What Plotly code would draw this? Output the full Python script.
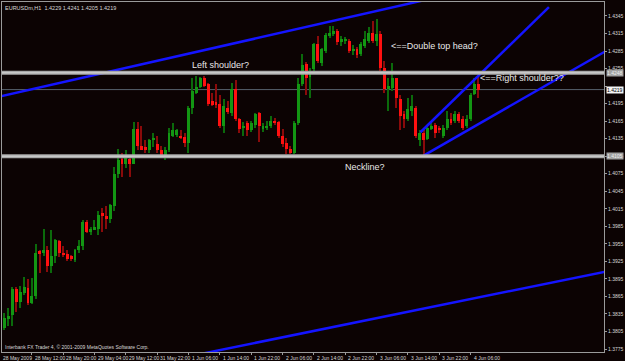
import plotly.graph_objects as go

# ---- Data: EURUSD H1 candles ----
open_ = [1.3814, 1.3811, 1.3828, 1.3833, 1.3878, 1.3855, 1.3871, 1.3879, 1.3853, 1.3865,
         1.3942, 1.3939, 1.3945, 1.3917, 1.3934, 1.3960, 1.3940, 1.3937, 1.3935, 1.3927,
         1.3945, 1.3951, 1.3993, 1.3976, 1.3979, 1.3981, 1.4007, 1.4002, 1.3997, 1.4019,
         1.4074, 1.4101, 1.4092, 1.4101, 1.4092, 1.4152, 1.4123, 1.4120, 1.4115, 1.4133,
         1.4126, 1.4116, 1.4102, 1.4115, 1.4140, 1.4142, 1.4140, 1.4138, 1.4128, 1.4188,
         1.4214, 1.4224, 1.4239, 1.4229, 1.4200, 1.4198, 1.4195, 1.4156, 1.4188, 1.4179,
         1.4220, 1.4169, 1.4154, 1.4161, 1.4149, 1.4159, 1.4179, 1.4152, 1.4154, 1.4157,
         1.4166, 1.4164, 1.4140, 1.4128, 1.4118, 1.4111, 1.4161, 1.4229, 1.4263, 1.4241,
         1.4255, 1.4297, 1.4265, 1.4285, 1.4311, 1.4314, 1.4319, 1.4301, 1.4302, 1.4302,
         1.4285, 1.4289, 1.4280, 1.4294, 1.4302, 1.4316, 1.4302, 1.4314, 1.4256, 1.4220,
         1.4222, 1.4238, 1.4203, 1.4178, 1.4169, 1.4183, 1.4188, 1.4132, 1.4145, 1.4135,
         1.4152, 1.4159, 1.4154, 1.4140, 1.4154, 1.4168, 1.4166, 1.4178, 1.4169, 1.4156,
         1.4169, 1.4212, 1.4229]
high = [1.3828, 1.3836, 1.3845, 1.3881, 1.3881, 1.3883, 1.3898, 1.3894, 1.3896, 1.3954,
        1.3944, 1.3981, 1.3951, 1.3979, 1.3963, 1.3961, 1.3951, 1.3944, 1.3936, 1.3947,
        1.3961, 1.3995, 1.3995, 1.3983, 1.3995, 1.4012, 1.4016, 1.4019, 1.4024, 1.4086,
        1.4118, 1.4111, 1.4115, 1.4106, 1.4164, 1.4164, 1.4157, 1.4132, 1.4135, 1.4144,
        1.4140, 1.4123, 1.4120, 1.4154, 1.4162, 1.4152, 1.4149, 1.4144, 1.4191, 1.4238,
        1.4243, 1.4241, 1.4243, 1.4231, 1.4214, 1.4229, 1.4209, 1.4203, 1.4200, 1.4231,
        1.4236, 1.4171, 1.4164, 1.4166, 1.4166, 1.4179, 1.4181, 1.4162, 1.4166, 1.4174,
        1.4171, 1.4166, 1.4152, 1.4137, 1.4123, 1.4166, 1.4239, 1.4280, 1.4266, 1.4256,
        1.4299, 1.4311, 1.4291, 1.4316, 1.4328, 1.4328, 1.4323, 1.4311, 1.4309, 1.4306,
        1.4296, 1.4292, 1.4301, 1.4319, 1.4326, 1.4336, 1.4340, 1.4319, 1.4268, 1.4238,
        1.4265, 1.4239, 1.4209, 1.4183, 1.4205, 1.4209, 1.4191, 1.4149, 1.4149, 1.4159,
        1.4166, 1.4162, 1.4157, 1.4159, 1.4183, 1.4179, 1.4183, 1.4181, 1.4173, 1.4176,
        1.4214, 1.4238, 1.4241]
low = [1.3790, 1.3808, 1.3814, 1.3814, 1.3838, 1.3845, 1.3868, 1.3850, 1.3852, 1.3860,
       1.3905, 1.3935, 1.3906, 1.3905, 1.3922, 1.3932, 1.3932, 1.3925, 1.3925, 1.3924,
       1.3940, 1.3945, 1.3974, 1.3971, 1.3978, 1.3970, 1.3976, 1.3981, 1.3990, 1.4012,
       1.4068, 1.4070, 1.4084, 1.4070, 1.4091, 1.4115, 1.4115, 1.4111, 1.4111, 1.4120,
       1.4111, 1.4102, 1.4098, 1.4113, 1.4138, 1.4138, 1.4135, 1.4120, 1.4111, 1.4178,
       1.4212, 1.4222, 1.4224, 1.4191, 1.4191, 1.4188, 1.4154, 1.4145, 1.4178, 1.4174,
       1.4166, 1.4144, 1.4140, 1.4140, 1.4147, 1.4154, 1.4130, 1.4147, 1.4149, 1.4154,
       1.4159, 1.4137, 1.4120, 1.4108, 1.4109, 1.4109, 1.4159, 1.4226, 1.4209, 1.4205,
       1.4248, 1.4265, 1.4260, 1.4282, 1.4307, 1.4311, 1.4296, 1.4294, 1.4297, 1.4282,
       1.4278, 1.4273, 1.4277, 1.4291, 1.4299, 1.4299, 1.4294, 1.4251, 1.4214, 1.4183,
       1.4217, 1.4188, 1.4149, 1.4154, 1.4166, 1.4174, 1.4137, 1.4123, 1.4106, 1.4132,
       1.4149, 1.4137, 1.4145, 1.4137, 1.4149, 1.4159, 1.4162, 1.4161, 1.4150, 1.4154,
       1.4166, 1.4209, 1.4205]
close = [1.3813, 1.3828, 1.3831, 1.3878, 1.3855, 1.3872, 1.3881, 1.3853, 1.3865, 1.3940,
         1.3939, 1.3945, 1.3917, 1.3934, 1.3961, 1.3940, 1.3937, 1.3929, 1.3929, 1.3945,
         1.3952, 1.3993, 1.3976, 1.3981, 1.3983, 1.4004, 1.4002, 1.3997, 1.4021, 1.4074,
         1.4099, 1.4092, 1.4102, 1.4092, 1.4152, 1.4123, 1.4116, 1.4115, 1.4133, 1.4135,
         1.4115, 1.4106, 1.4116, 1.4144, 1.4149, 1.4149, 1.4137, 1.4128, 1.4188, 1.4217,
         1.4224, 1.4239, 1.4226, 1.4195, 1.4193, 1.4193, 1.4156, 1.4191, 1.4181, 1.4220,
         1.4169, 1.4152, 1.4157, 1.4149, 1.4162, 1.4178, 1.4156, 1.4156, 1.4157, 1.4166,
         1.4162, 1.4140, 1.4126, 1.4118, 1.4111, 1.4161, 1.4229, 1.4261, 1.4239, 1.4251,
         1.4297, 1.4268, 1.4289, 1.4313, 1.4316, 1.4319, 1.4301, 1.4306, 1.4306, 1.4285,
         1.4289, 1.4278, 1.4297, 1.4306, 1.4316, 1.4302, 1.4314, 1.4256, 1.4220, 1.4226,
         1.4238, 1.4205, 1.4174, 1.4169, 1.4186, 1.4191, 1.4140, 1.4145, 1.4132, 1.4154,
         1.4156, 1.4144, 1.4149, 1.4154, 1.4168, 1.4162, 1.4178, 1.4166, 1.4154, 1.4169,
         1.4210, 1.4229, 1.4219]

# time-axis labels (every 8 bars)
time_label_bars = [0, 8, 16, 24, 32, 40, 48, 56, 64, 72, 80, 88, 96, 104, 112, 120]
time_labels = ["28 May 2009", "28 May 12:00", "28 May 20:00", "29 May 04:00", "29 May 12:00",
               "31 May 22:00", "1 Jun 06:00", "1 Jun 14:00", "1 Jun 22:00", "2 Jun 06:00",
               "2 Jun 14:00", "2 Jun 22:00", "3 Jun 06:00", "3 Jun 14:00", "3 Jun 22:00",
               "4 Jun 06:00"]

# price-axis ticks
price_ticks = [1.3775, 1.3805, 1.3835, 1.3865, 1.3895, 1.3925, 1.3955, 1.3985, 1.4015, 1.4045,
               1.4075, 1.4105, 1.4135, 1.4165, 1.4195, 1.4225, 1.4255, 1.4285, 1.4315, 1.4345]

# drawn objects
level_lines = [1.4248, 1.4105]
current_price = 1.4219
trend_lines = [
    ([-1, 120], [1.4206, 1.4390]),
    ([50, 160], [1.3765, 1.3915]),
    ([107.2, 140], [1.4146, 1.4360]),
    ([108, 160], [1.4106, 1.4306]),
]
notes = [
    ("Left shoulder?", 56.1, 1.4261, "center"),
    ("<==Double top head?", 99.1, 1.4294, "left"),
    ("<==Right shoulder??", 122.0, 1.4238, "left"),
    ("Neckline?", 93.0, 1.4087, "center"),
]
header = "EURUSDm,H1  1.4229 1.4241 1.4205 1.4219"
footer = "Interbank FX Trader 4, \u00a9 2001-2009 MetaQuotes Software Corp."

# ---- Styling ----
BG = "#0c0303"
UP_BODY, UP_WICK = "#139613", "#0b6a0b"
DN_BODY, DN_WICK = "#ff1010", "#8a0a0a"
AXIS = "#9a9a9a"
TXT = "#d8d8d8"
FONT = "Liberation Sans"
X_MIN, X_MAX = 0.364, 154.06

bars = list(range(len(open_)))
is_up = [c >= o for o, c in zip(open_, close)]
body_base = [min(o, c) for o, c in zip(open_, close)]
body_h = [max(abs(c - o), 0.00012) for o, c in zip(open_, close)]
wick_h = [h - l for h, l in zip(high, low)]

fig = go.Figure()
fig.add_trace(go.Bar(x=bars, base=low, y=wick_h, width=0.3,
                     marker=dict(color=[UP_WICK if u else DN_WICK for u in is_up], line=dict(width=0)),
                     hoverinfo="skip", showlegend=False))
fig.add_trace(go.Bar(x=bars, base=body_base, y=body_h, width=0.74,
                     marker=dict(color=[UP_BODY if u else DN_BODY for u in is_up], line=dict(width=0)),
                     hoverinfo="skip", showlegend=False))

for xs, ys in trend_lines:
    fig.add_trace(go.Scatter(x=xs, y=ys, mode="lines", line=dict(color="#1414ff", width=2.5),
                             hoverinfo="skip", showlegend=False))

shapes = []
for lv in level_lines:
    shapes.append(dict(type="line", xref="paper", x0=0, x1=1, yref="y", y0=lv, y1=lv,
                       line=dict(color="#a8a8a8", width=4), layer="above"))
    shapes.append(dict(type="line", xref="paper", x0=0, x1=1, yref="y", y0=lv, y1=lv,
                       line=dict(color="#c8c8c8", width=1.5), layer="above"))
shapes.append(dict(type="line", xref="paper", x0=0, x1=1, yref="y", y0=current_price, y1=current_price,
                   line=dict(color="#56606c", width=1), layer="below"))

annotations = []
for text, xb, yp, anchor in notes:
    annotations.append(dict(x=xb, y=yp, xref="x", yref="y", text=text, showarrow=False,
                            xanchor=anchor, yanchor="middle",
                            font=dict(family=FONT, size=9, color="#e8e8e8")))
for b, t in zip(time_label_bars, time_labels):
    # first label sits at the left border of the chart (its bar starts just outside the range)
    if b < X_MIN:
        pos = dict(x=0, xref="paper", xshift=-1)
    else:
        pos = dict(x=b, xref="x", xshift=1)
    annotations.append(dict(y=0, yref="paper", text=t, showarrow=False,
                            xanchor="left", yanchor="top", yshift=-1,
                            font=dict(family=FONT, size=5, color=TXT), **pos))
annotations.append(dict(x=0.002, y=0.997, xref="paper", yref="paper", text=header, showarrow=False,
                        xanchor="left", yanchor="top", font=dict(family=FONT, size=5.5, color=TXT)))
annotations.append(dict(x=0.002, y=0.014, xref="paper", yref="paper", text=footer, showarrow=False,
                        xanchor="left", yanchor="middle", font=dict(family=FONT, size=5, color=TXT)))
for lv, bg, fg in [(level_lines[0], "#a0a0a0", "#f0f0f0"), (current_price, "#f4f4f4", "#000000"),
                   (level_lines[1], "#a0a0a0", "#f0f0f0")]:
    annotations.append(dict(x=1, y=lv, xref="paper", yref="y", text=f"{lv:.4f}", showarrow=False,
                            xanchor="left", yanchor="middle", xshift=2, bgcolor=bg,
                            borderpad=0, font=dict(family=FONT, size=5, color=fg)))

# the 1.4225 tick label is covered by the current-price box in the original
tick_text = ["" if abs(p - current_price) < 0.0008 else f"{p:.4f}" for p in price_ticks]

fig.update_layout(
    width=625, height=361,
    margin=dict(l=2, r=19, t=1, b=9),
    paper_bgcolor=BG, plot_bgcolor=BG,
    barmode="overlay", bargap=0,
    showlegend=False,
    shapes=shapes, annotations=annotations,
    xaxis=dict(range=[X_MIN, X_MAX], showgrid=False, zeroline=False,
               tickvals=time_label_bars, showticklabels=False, ticks="outside",
               ticklen=2, tickcolor=AXIS, showline=True, linecolor=AXIS, linewidth=1,
               mirror=True, fixedrange=True),
    yaxis=dict(range=[1.37699, 1.43689], side="right", showgrid=False, zeroline=False,
               tickvals=price_ticks, ticktext=tick_text,
               ticks="outside", ticklen=2, tickcolor=AXIS,
               tickfont=dict(family=FONT, size=5, color=TXT),
               showline=True, linecolor=AXIS, linewidth=1, mirror=True, fixedrange=True),
)

fig.write_html("out.html")
